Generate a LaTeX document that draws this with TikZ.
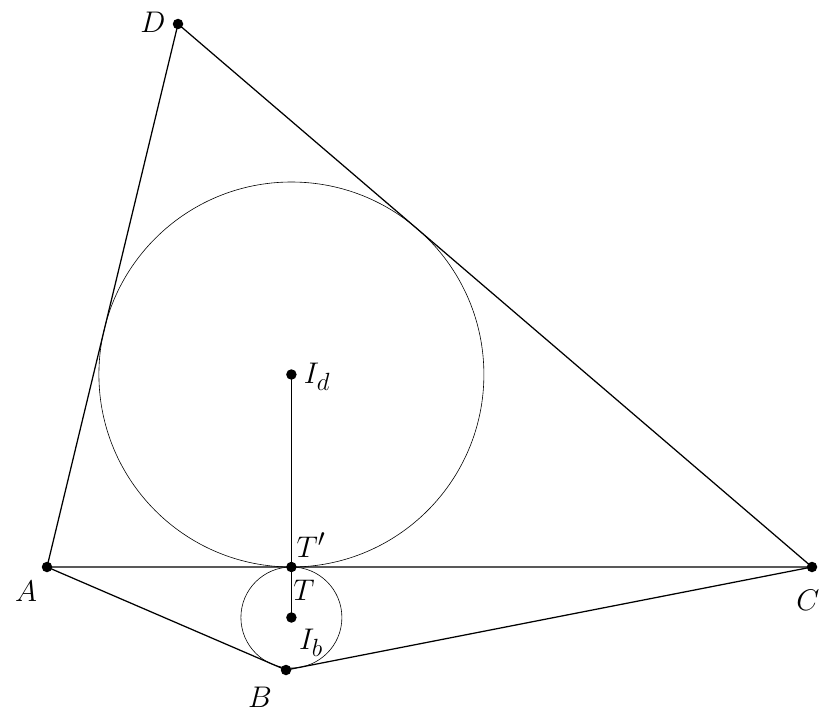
\documentclass[tikz,border=0pt]{standalone}
\usepackage{graphicx}
\newcommand{\lbtxt}[1]{\scalebox{1.2}{$#1$}}
\begin{document}
\begin{tikzpicture}[x=1pt,y=-1pt,
  seg/.style={line width=1.25pt},
  circ/.style={line width=0.6pt},
  dot/.style={circle,fill=black,inner sep=0pt,minimum size=10.5pt},
  lbl/.style={font=\fontsize{24.88}{30}\selectfont,inner sep=0pt}]
\useasboundingbox (0,0) rectangle (835,717);
\coordinate (A) at (47,567);
\coordinate (D) at (178,24);
\coordinate (C) at (812,567);
\coordinate (B) at (286,670);
\coordinate (Id) at (291.4,374.5);
\coordinate (Ib) at (291.4,617.5);
\coordinate (T) at (291.4,567);
\draw[circ] (Id) circle[radius=192.5];
\draw[circ] (Ib) circle[radius=50.5];
\draw[seg] (A) -- (D) -- (C) -- cycle;
\draw[seg] (A) -- (B) -- (C);
\draw[seg] (Id) -- (Ib);
\node[dot] (dA) at (A) {};
\node[dot] (dB) at (B) {};
\node[dot] (dC) at (C) {};
\node[dot] (dD) at (D) {};
\node[dot] (dId) at (Id) {};
\node[dot] (dIb) at (Ib) {};
\node[dot] (dT) at (T) {};
\node[lbl] (lD) at (153,22) {\lbtxt{D}};
\node[lbl] (lA) at (26,591) {\lbtxt{A}};
\node[lbl] (lC) at (808,600) {\lbtxt{C}};
\node[lbl] (lB) at (260,697) {\lbtxt{B}};
\node[lbl] (lTp) at (311,545) {\lbtxt{T'}};
\node[lbl] (lT) at (304,590) {\lbtxt{T}};
\node[lbl] (lIb) at (311,643) {\lbtxt{I_b}};
\node[lbl] (lId) at (317,377) {\lbtxt{I_d}};
\end{tikzpicture}
\end{document}
